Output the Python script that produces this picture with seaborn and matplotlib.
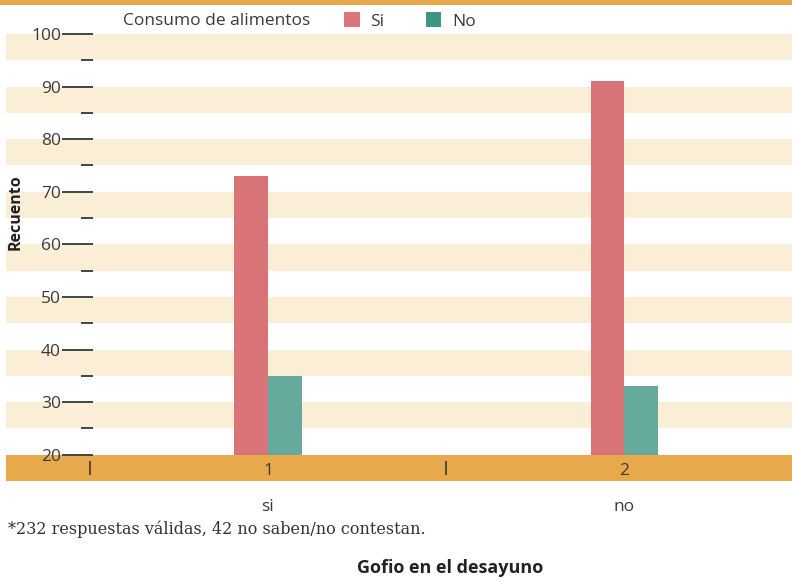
import matplotlib
matplotlib.use("Agg")
import matplotlib.pyplot as plt
import matplotlib.transforms as mtransforms
from matplotlib.patches import Rectangle, Patch
import numpy as np
import pandas as pd
import seaborn as sns

# data
categories = ["si", "no"]
codes = ["1", "2"]
series = ["Si", "No"]
si_counts = [73, 91]
no_counts = [35, 33]
yticks_major = [20, 30, 40, 50, 60, 70, 80, 90, 100]
footnote = "*232 respuestas válidas, 42 no saben/no contestan."

colors = {"Si": "#d87377", "No": "#65aa9d"}
legend_colors = {"Si": "#da767b", "No": "#3d9682"}
beige = "#faeed6"
orange = "#e7a94b"

sns.set_theme(style="white")
plt.rcParams["font.family"] = ["Open Sans", "DejaVu Sans"]

df = pd.DataFrame({
    "desayuno": categories * 2,
    "consumo": [series[0]] * 2 + [series[1]] * 2,
    "recuento": si_counts + no_counts,
})

fig = plt.figure(figsize=(7.92, 5.81), dpi=100)
ax = fig.add_axes([6 / 792, 1 - 481 / 581, 786 / 792, (481 - 13) / 581])

sns.barplot(data=df, x="desayuno", y="recuento", hue="consumo", order=categories,
            hue_order=series, palette=colors, width=0.19, gap=0, saturation=1,
            linewidth=0, legend=False, ax=ax)

ax.set_xlim(-0.735, 1.47)
ax.set_ylim(15.0, 104.0)
ax.set_axisbelow(False)

# alternating beige stripes
for y in yticks_major[1:]:
    ax.axhspan(y - 5, y, color=beige, zorder=0, lw=0)
# orange base band covering below 20
ax.axhspan(15.0, 20, color=orange, zorder=2, lw=0)

for s in ax.spines.values():
    s.set_visible(False)

# y axis: ticks drawn at a shifted spine position
ax.spines["left"].set_position(("axes", 87 / 786))
ax.set_yticks(yticks_major)
ax.set_yticks([y + 5 for y in yticks_major[:-1]], minor=True)
ax.tick_params(axis="y", which="major", direction="out", length=22, width=1.4,
               color="#3b4944", labelsize=12.5, labelcolor="#3a3a3a", pad=1, left=True)
ax.tick_params(axis="y", which="minor", direction="out", length=9, width=1.4,
               color="#3b4944", left=True)

# x axis: codes inside the orange band, separators between groups
ax.spines["bottom"].set_position(("data", 16.2))
ax.set_xticks(range(len(codes)))
ax.set_xticklabels(codes)
ax.set_xticks([i - 0.5 for i in range(len(codes))], minor=True)
ax.tick_params(axis="x", which="major", length=0, labelsize=12.5, labelcolor="#3a3a3a", pad=-8.6)
ax.tick_params(axis="x", which="minor", direction="in", length=10, width=1.2,
               color="#3a3a3a", bottom=True)
ax.set_xlabel("")
ax.set_ylabel("")

trans = mtransforms.blended_transform_factory(ax.transData, fig.transFigure)
for i, cat in enumerate(categories):
    ax.text(i, 1 - 507 / 581, cat, transform=trans, ha="center", va="center",
            fontsize=12.5, color="#3a3a3a")

fig.text(16 / 792, 1 - 212 / 581, "Recuento", rotation=90, ha="center", va="center",
         fontsize=11.5, fontweight="bold", color="#222222")
fig.text(450 / 792, 1 - 568 / 581, "Gofio en el desayuno", ha="center", va="center",
         fontsize=13, fontweight="bold", color="#222222")
fig.text(8 / 792, 1 - 529 / 581, footnote, ha="left", va="center",
         fontsize=11.5, family="DejaVu Serif", color="#333333")

# legend row
fig.text(123 / 792, 1 - 21 / 581, "Consumo de alimentos", ha="left", va="center",
         fontsize=12.5, color="#3a3a3a")
handles = [Patch(facecolor=legend_colors[s], edgecolor="none") for s in series]
fig.legend(handles, series, ncol=2, frameon=False, loc="center left",
           bbox_to_anchor=(344 / 792, 1 - 21 / 581), fontsize=12.5,
           handlelength=0.9, handleheight=0.9, handletextpad=0.6, columnspacing=2.4,
           labelcolor="#3a3a3a", borderpad=0, borderaxespad=0)

# orange strip along the top edge
fig.patches.append(Rectangle((0, 1 - 5 / 581), 1, 5 / 581, transform=fig.transFigure,
                             color=orange, lw=0))

fig.savefig("out.png", dpi=100)
